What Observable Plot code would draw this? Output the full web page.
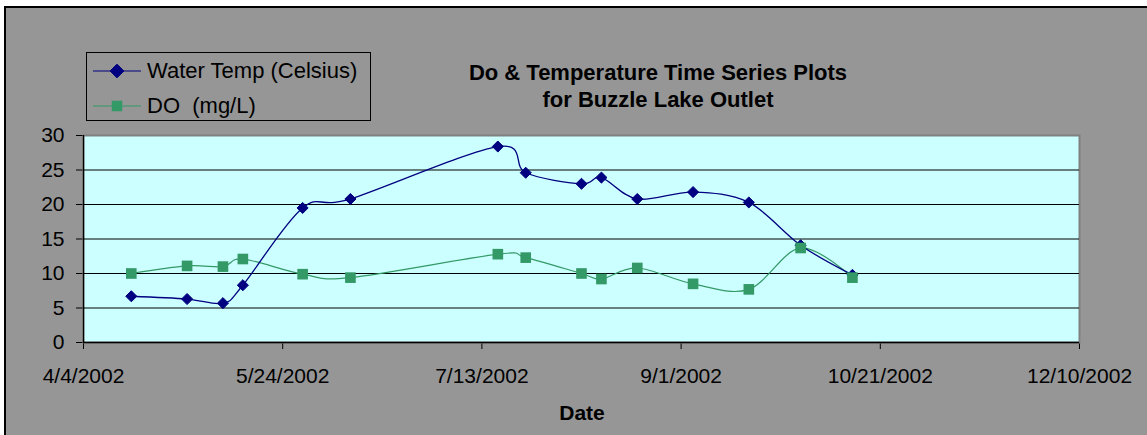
<!DOCTYPE html>
<html>
<head>
<meta charset="utf-8">
<script src="https://cdn.jsdelivr.net/npm/d3@7"></script>
<script src="https://cdn.jsdelivr.net/npm/@observablehq/plot@0.6"></script>
<style>
  html, body { margin: 0; padding: 0; background: #ffffff; }
  #wrap { position: relative; width: 1147px; height: 435px; overflow: hidden; }
  #bg { position: absolute; left: 4px; top: 6px; width: 1200px; height: 500px;
        background: #969696; border-top: 2px solid #000; border-left: 2px solid #000; box-sizing: border-box; }
  #chart { position: absolute; left: 0; top: 0; }
</style>
</head>
<body>
<div id="wrap"><div id="bg"></div><div id="chart"></div></div>
<script>
// ---- data ----
const dates = ["2002-04-16","2002-04-30","2002-05-09","2002-05-14","2002-05-29","2002-06-10",
               "2002-07-17","2002-07-24","2002-08-07","2002-08-12","2002-08-21","2002-09-04",
               "2002-09-18","2002-10-01","2002-10-14"];
const waterTemp = [6.7, 6.3, 5.7, 8.3, 19.5, 20.8, 28.4, 24.6, 23.0, 23.9, 20.8, 21.8, 20.3, 14.1, 9.8];
const dissolvedO2 = [10.0, 11.1, 11.0, 12.1, 9.9, 9.4, 12.8, 12.3, 10.0, 9.2, 10.8, 8.5, 7.7, 13.7, 9.4];
const xTickDates = ["2002-04-04","2002-05-24","2002-07-13","2002-09-01","2002-10-21","2002-12-10"];
const yTicks = [0, 5, 10, 15, 20, 25, 30];
const gridLines = [5, 10, 15, 20, 25];
const seriesNames = ["Water Temp (Celsius)", "DO  (mg/L)"];
const titleLines = ["Do & Temperature Time Series Plots", "for Buzzle Lake Outlet"];
const xLabel = "Date";

const tempColor = "#000080";
const doColor = "#339966";
const font = "Arial, 'Liberation Sans', sans-serif";
const fs = 21;

const parse = s => new Date(s + "T00:00:00Z");
const rows = dates.map((d, i) => ({date: parse(d), temp: waterTemp[i], dO: dissolvedO2[i]}));
const xTicks = xTickDates.map(parse);
const fmt = d => `${d.getUTCMonth() + 1}/${d.getUTCDate()}/${d.getUTCFullYear()}`;

const chart = Plot.plot({
  width: 1147, height: 435,
  marginLeft: 83, marginRight: 68, marginTop: 135, marginBottom: 93,
  style: {background: "transparent", fontFamily: font, fontSize: fs + "px", color: "#000", overflow: "visible"},
  x: {type: "utc", domain: [xTicks[0], xTicks[xTicks.length - 1]], ticks: xTicks, tickFormat: fmt,
      tickSize: 7, tickPadding: 19, label: null},
  y: {domain: [0, 30], ticks: yTicks, tickSize: 7, tickPadding: 12, label: null},
  marks: [
    Plot.frame({fill: "#ccffff", stroke: "#808080", strokeWidth: 2}),
    Plot.ruleY(gridLines, {stroke: "#000", strokeWidth: 1}),
    Plot.ruleY([0], {stroke: "#000", strokeWidth: 1.3}),
    Plot.ruleX([xTicks[0]], {stroke: "#000", strokeWidth: 1.3}),
    Plot.line(rows, {x: "date", y: "dO", stroke: doColor, strokeWidth: 1.2, curve: "cardinal"}),
    Plot.line(rows, {x: "date", y: "temp", stroke: tempColor, strokeWidth: 1.3, curve: "cardinal"}),
    Plot.dot(rows, {x: "date", y: "temp", symbol: "diamond2", r: 5, fill: tempColor, stroke: tempColor, strokeWidth: 1}),
    Plot.dot(rows, {x: "date", y: "dO", symbol: "square", r: 6, fill: doColor, stroke: "none"})
  ]
});
document.getElementById("chart").appendChild(chart);

const svg = d3.select(chart);
// Title
const title = svg.append("text").attr("font-family", font).attr("font-size", 22).attr("font-weight", "bold")
  .attr("text-anchor", "middle").attr("fill", "#000");
titleLines.forEach((t, i) => title.append("tspan").attr("x", 658).attr("y", 80 + i * 27).text(t));
// X label
svg.append("text").attr("x", 582).attr("y", 420).attr("font-family", font).attr("font-size", fs)
  .attr("font-weight", "bold").attr("text-anchor", "middle").attr("fill", "#000").text(xLabel);
// Legend
const lg = svg.append("g").attr("text-anchor", "start");
lg.append("rect").attr("x", 86.5).attr("y", 52.5).attr("width", 284).attr("height", 68)
  .attr("fill", "none").attr("stroke", "#000").attr("stroke-width", 1);
const entries = [
  {name: seriesNames[0], color: tempColor, sym: d3.symbolDiamond2, size: 120, cy: 71},
  {name: seriesNames[1], color: doColor, sym: d3.symbolSquare, size: 110, cy: 106}
];
entries.forEach(e => {
  lg.append("line").attr("x1", 93).attr("x2", 141).attr("y1", e.cy).attr("y2", e.cy)
    .attr("stroke", e.color).attr("stroke-width", 1.2);
  lg.append("path").attr("d", d3.symbol(e.sym, e.size)()).attr("transform", `translate(117,${e.cy})`)
    .attr("fill", e.color).attr("stroke", e.sym === d3.symbolDiamond2 ? e.color : "none");
  lg.append("text").attr("x", 147).attr("y", e.cy + 7).attr("font-family", font).attr("font-size", 22)
    .attr("text-anchor", "start").attr("fill", "#000").style("white-space", "pre").text(e.name);
});
</script>
</body>
</html>
